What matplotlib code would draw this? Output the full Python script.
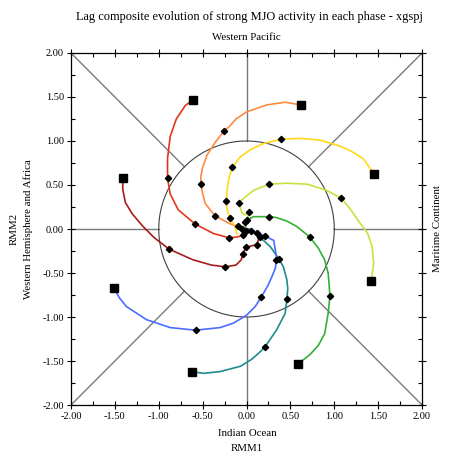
import numpy as np
import matplotlib
matplotlib.use("Agg")
import matplotlib.pyplot as plt

plt.rcParams['font.family'] = ['Liberation Serif', 'DejaVu Serif']

# ---- data (RMM1, RMM2) for each phase-composite curve ----
p1_x = [-1.41, -1.41, -1.38, -1.30, -1.18, -1.05, -0.88, -0.61, -0.40, -0.24, -0.12, -0.06, -0.04, -0.01, 0.06, 0.12, 0.14, 0.08, 0.02]
p1_y = [0.58, 0.45, 0.30, 0.17, 0.03, -0.10, -0.23, -0.35, -0.41, -0.43, -0.41, -0.35, -0.28, -0.21, -0.19, -0.18, -0.10, -0.03, 0.00]
p1_d = [6, 9, 12, 13, 15]

p2_x = [-0.61, -0.70, -0.80, -0.87, -0.90, -0.90, -0.87, -0.78, -0.59, -0.38, -0.20, -0.10, -0.04, -0.01]
p2_y = [1.47, 1.40, 1.25, 1.05, 0.80, 0.58, 0.40, 0.22, 0.06, -0.05, -0.10, -0.09, -0.07, -0.02]
p2_d = [5, 8, 10, 12, 13]

p3_x = [0.62, 0.44, 0.23, 0.00, -0.12, -0.19, -0.26, -0.36, -0.45, -0.50, -0.52, -0.52, -0.50, -0.47, -0.36, -0.19, -0.10, -0.05]
p3_y = [1.41, 1.44, 1.41, 1.33, 1.25, 1.17, 1.11, 0.98, 0.84, 0.70, 0.60, 0.51, 0.40, 0.29, 0.15, 0.06, 0.03, 0.00]
p3_d = [6, 11, 14, 16, 17]

p4_x = [1.45, 1.33, 1.20, 1.07, 0.84, 0.61, 0.39, 0.19, 0.04, -0.08, -0.16, -0.20, -0.22, -0.23, -0.22, -0.19, -0.13, -0.11]
p4_y = [0.63, 0.80, 0.88, 0.94, 1.01, 1.03, 1.02, 0.97, 0.90, 0.81, 0.70, 0.58, 0.45, 0.32, 0.22, 0.12, 0.03, -0.06]
p4_d = [6, 10, 13, 15]

p5_x = [1.42, 1.45, 1.43, 1.38, 1.27, 1.18, 1.08, 0.91, 0.69, 0.46, 0.26, 0.08, -0.03, -0.09, -0.05, -0.02, 0.03, 0.00]
p5_y = [-0.59, -0.39, -0.20, -0.05, 0.10, 0.23, 0.35, 0.44, 0.51, 0.52, 0.51, 0.44, 0.35, 0.30, 0.18, 0.16, 0.19, 0.10]
p5_d = [6, 10, 13, 16, 17]

p6_x = [0.59, 0.72, 0.82, 0.89, 0.93, 0.95, 0.94, 0.93, 0.89, 0.82, 0.72, 0.57, 0.46, 0.34, 0.26, 0.08, 0.00, -0.02, -0.01]
p6_y = [-1.53, -1.43, -1.32, -1.19, -0.96, -0.76, -0.62, -0.50, -0.35, -0.22, -0.09, 0.03, 0.09, 0.13, 0.14, 0.14, 0.10, 0.08, 0.02]
p6_d = [5, 10, 14, 17]

p7_x = [-0.62, -0.49, -0.30, -0.07, 0.06, 0.15, 0.21, 0.34, 0.44, 0.46, 0.47, 0.46, 0.42, 0.37, 0.27, 0.15, 0.05, 0.00]
p7_y = [-1.62, -1.64, -1.62, -1.56, -1.48, -1.40, -1.34, -1.15, -0.96, -0.80, -0.68, -0.58, -0.43, -0.34, -0.20, -0.09, -0.02, 0.00]
p7_d = [6, 9, 13, 15, 16]

p8_x = [-1.51, -1.45, -1.37, -1.14, -0.87, -0.58, -0.30, -0.15, 0.00, 0.10, 0.17, 0.24, 0.29, 0.33, 0.34, 0.34, 0.31, 0.21, 0.12, 0.03]
p8_y = [-0.67, -0.78, -0.88, -1.03, -1.12, -1.15, -1.12, -1.07, -0.98, -0.88, -0.77, -0.65, -0.54, -0.44, -0.35, -0.31, -0.13, -0.08, -0.04, 0.00]
p8_d = [5, 10, 14, 17, 18]

curves = [
    (p1_x, p1_y, p1_d, '#a81c1c'),
    (p2_x, p2_y, p2_d, '#e2361a'),
    (p3_x, p3_y, p3_d, '#ff8a40'),
    (p4_x, p4_y, p4_d, '#ffd81a'),
    (p5_x, p5_y, p5_d, '#c8e23c'),
    (p6_x, p6_y, p6_d, '#34b034'),
    (p7_x, p7_y, p7_d, '#1e8a8c'),
    (p8_x, p8_y, p8_d, '#4a6cff'),
]

ticks = [-2.0, -1.5, -1.0, -0.5, 0.0, 0.5, 1.0, 1.5, 2.0]
tick_labels = ["%.2f" % t for t in ticks]

fig = plt.figure(figsize=(4.53, 4.58), dpi=100)
ax = fig.add_axes([0.1567, 0.1157, 0.775, 0.7686])
ax.set_xlim(-2, 2)
ax.set_ylim(-2, 2)

# phase diagram frame
gc = '#7a7a7a'
r = np.sqrt(0.5)
for sx, sy in [(1, 1), (1, -1), (-1, 1), (-1, -1)]:
    ax.plot([sx * r, sx * 2], [sy * r, sy * 2], color=gc, lw=1.0, zorder=1)
ax.plot([1, 2], [0, 0], color=gc, lw=1.0, zorder=1)
ax.plot([-1, -2], [0, 0], color=gc, lw=1.0, zorder=1)
ax.plot([0, 0], [1, 2], color=gc, lw=1.0, zorder=1)
ax.plot([0, 0], [-1, -2], color=gc, lw=1.0, zorder=1)
th = np.linspace(0, 2 * np.pi, 400)
ax.plot(np.cos(th), np.sin(th), color='#404040', lw=0.8, zorder=1)

for xs, ys, dm, col in curves:
    ax.plot(xs, ys, color=col, lw=1.2, zorder=2, solid_joinstyle='round')
    ax.plot(xs[0], ys[0], marker='s', ms=6, color='black', zorder=4, linestyle='none')
    ax.plot([xs[i] for i in dm], [ys[i] for i in dm], marker='D', ms=3.2,
            color='black', linestyle='none', zorder=3)

ax.set_xticks(ticks)
ax.set_xticklabels(tick_labels)
ax.set_yticks(ticks)
ax.set_yticklabels(tick_labels)
ax.set_xticks(np.arange(-1.75, 2.0, 0.5), minor=True)
ax.set_yticks(np.arange(-1.75, 2.0, 0.5), minor=True)
ax.tick_params(which='major', direction='inout', length=6, width=0.8, labelsize=7.5,
               top=True, right=True, pad=2)
ax.tick_params(which='minor', direction='in', length=3, width=0.8, top=True, right=True)
for s in ax.spines.values():
    s.set_linewidth(0.9)

fig.text(0.55, 0.962, "Lag composite evolution of strong MJO activity in each phase - xgspj",
         ha='center', va='center', fontsize=8.9)
fig.text(0.543, 0.918, "Western Pacific", ha='center', va='center', fontsize=7.8)
fig.text(0.545, 0.054, "Indian Ocean", ha='center', va='center', fontsize=7.8)
fig.text(0.545, 0.021, "RMM1", ha='center', va='center', fontsize=7.8)
fig.text(0.031, 0.5, "RMM2", ha='center', va='center', rotation=90, fontsize=7.8)
fig.text(0.062, 0.5, "Western Hemisphere and Africa", ha='center', va='center', rotation=90, fontsize=7.8)
fig.text(0.965, 0.5, "Maritime Continent", ha='center', va='center', rotation=90, fontsize=7.8)

fig.savefig("out.png", dpi=100)
